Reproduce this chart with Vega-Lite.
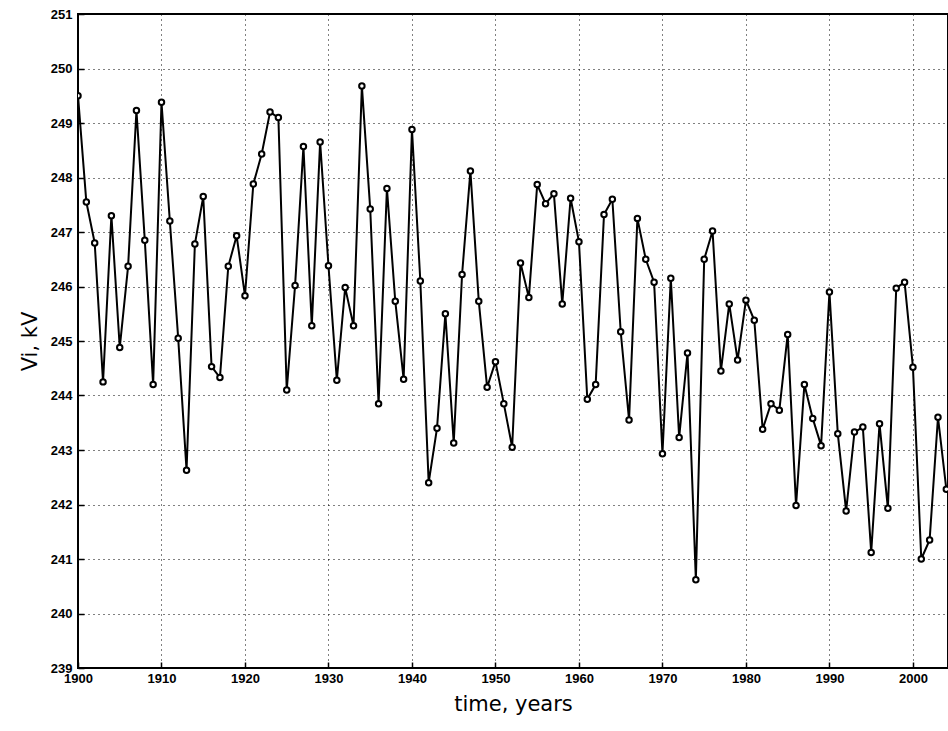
{"$schema":"https://vega.github.io/schema/vega-lite/v6.json","width":870,"height":654,"autosize":{"type":"none"},"padding":{"left":78,"top":14,"right":0,"bottom":63},"background":"white","config":{"view":{"stroke":"black","strokeWidth":2},"axis":{"grid":true,"gridColor":"black","gridDash":[1,4],"gridWidth":1,"domain":false,"tickColor":"black","tickSize":-6,"tickWidth":1.5,"labelColor":"black","labelFont":"Liberation Sans","labelFontWeight":"bold","labelFontSize":13,"labelFlush":false,"labelOverlap":false,"titleFont":"DejaVu Sans","titleFontSize":21,"titleFontWeight":"normal","titleColor":"black"}},
"data":{"values":[
{"y":1900,"v":249.5},{"y":1901,"v":247.55},{"y":1902,"v":246.8},{"y":1903,"v":244.25},{"y":1904,"v":247.3},{"y":1905,"v":244.88},{"y":1906,"v":246.37},{"y":1907,"v":249.23},{"y":1908,"v":246.85},{"y":1909,"v":244.2},
{"y":1910,"v":249.38},{"y":1911,"v":247.2},{"y":1912,"v":245.05},{"y":1913,"v":242.63},{"y":1914,"v":246.78},{"y":1915,"v":247.65},{"y":1916,"v":244.53},{"y":1917,"v":244.33},{"y":1918,"v":246.37},{"y":1919,"v":246.93},
{"y":1920,"v":245.83},{"y":1921,"v":247.88},{"y":1922,"v":248.43},{"y":1923,"v":249.2},{"y":1924,"v":249.1},{"y":1925,"v":244.1},{"y":1926,"v":246.02},{"y":1927,"v":248.57},{"y":1928,"v":245.28},{"y":1929,"v":248.65},
{"y":1930,"v":246.38},{"y":1931,"v":244.28},{"y":1932,"v":245.98},{"y":1933,"v":245.28},{"y":1934,"v":249.68},{"y":1935,"v":247.42},{"y":1936,"v":243.85},{"y":1937,"v":247.8},{"y":1938,"v":245.73},{"y":1939,"v":244.3},
{"y":1940,"v":248.88},{"y":1941,"v":246.1},{"y":1942,"v":242.4},{"y":1943,"v":243.4},{"y":1944,"v":245.5},{"y":1945,"v":243.13},{"y":1946,"v":246.22},{"y":1947,"v":248.12},{"y":1948,"v":245.73},{"y":1949,"v":244.15},
{"y":1950,"v":244.62},{"y":1951,"v":243.85},{"y":1952,"v":243.05},{"y":1953,"v":246.43},{"y":1954,"v":245.8},{"y":1955,"v":247.87},{"y":1956,"v":247.52},{"y":1957,"v":247.7},{"y":1958,"v":245.68},{"y":1959,"v":247.62},
{"y":1960,"v":246.82},{"y":1961,"v":243.93},{"y":1962,"v":244.2},{"y":1963,"v":247.32},{"y":1964,"v":247.6},{"y":1965,"v":245.17},{"y":1966,"v":243.55},{"y":1967,"v":247.25},{"y":1968,"v":246.5},{"y":1969,"v":246.08},
{"y":1970,"v":242.93},{"y":1971,"v":246.15},{"y":1972,"v":243.23},{"y":1973,"v":244.78},{"y":1974,"v":240.62},{"y":1975,"v":246.5},{"y":1976,"v":247.02},{"y":1977,"v":244.45},{"y":1978,"v":245.68},{"y":1979,"v":244.65},
{"y":1980,"v":245.75},{"y":1981,"v":245.38},{"y":1982,"v":243.38},{"y":1983,"v":243.85},{"y":1984,"v":243.73},{"y":1985,"v":245.12},{"y":1986,"v":241.98},{"y":1987,"v":244.2},{"y":1988,"v":243.58},{"y":1989,"v":243.08},
{"y":1990,"v":245.9},{"y":1991,"v":243.3},{"y":1992,"v":241.88},{"y":1993,"v":243.33},{"y":1994,"v":243.42},{"y":1995,"v":241.12},{"y":1996,"v":243.48},{"y":1997,"v":241.93},{"y":1998,"v":245.97},{"y":1999,"v":246.08},
{"y":2000,"v":244.52},{"y":2001,"v":241.0},{"y":2002,"v":241.35},{"y":2003,"v":243.6},{"y":2004,"v":242.28}]},
"encoding":{"x":{"field":"y","type":"quantitative","scale":{"domain":[1900,2004.2],"nice":false,"zero":false},"axis":{"values":[1900,1910,1920,1930,1940,1950,1960,1970,1980,1990,2000],"format":"d","title":"time, years","titlePadding":8,"labelPadding":10}},
"y":{"field":"v","type":"quantitative","scale":{"domain":[239,251],"nice":false,"zero":false},"axis":{"values":[239,240,241,242,243,244,245,246,247,248,249,250,251],"format":"d","title":"Vi, kV","titlePadding":10,"labelPadding":12}}},
"layer":[{"mark":{"type":"line","color":"black","strokeWidth":2,"clip":true}},
{"mark":{"type":"point","shape":"circle","filled":true,"fill":"white","stroke":"black","strokeWidth":2,"size":30,"opacity":1,"clip":true}}]}
